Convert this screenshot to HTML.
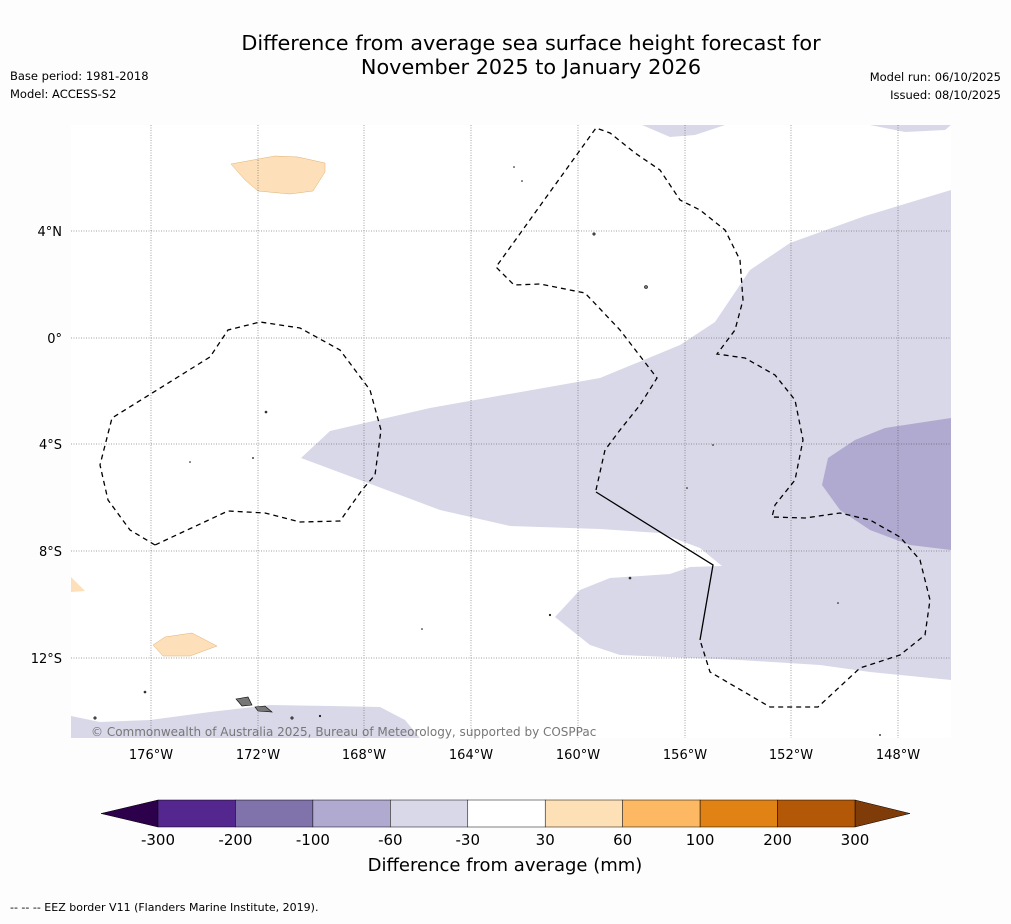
<!DOCTYPE html>
<html><head><meta charset="utf-8"><style>
body{margin:0;background:#fdfdfd;}
svg text{font-family:"DejaVu Sans","Liberation Sans",sans-serif;}
</style></head><body>
<svg id="chart" width="1011" height="919" viewBox="0 0 1011 919" xmlns="http://www.w3.org/2000/svg">
<rect width="1011" height="919" fill="#fdfdfd"/>
<text x="531" y="50" font-size="20.8" text-anchor="middle">Difference from average sea surface height forecast for</text>
<text x="531" y="74" font-size="20.8" text-anchor="middle">November 2025 to January 2026</text>
<text x="10" y="80" font-size="11.5">Base period: 1981-2018</text>
<text x="10" y="98" font-size="11.5">Model: ACCESS-S2</text>
<text x="1001" y="81" font-size="11.5" text-anchor="end">Model run: 06/10/2025</text>
<text x="1001" y="99" font-size="11.5" text-anchor="end">Issued: 08/10/2025</text>

<g>
<rect x="71" y="125" width="880" height="613" fill="#fff"/>
<path fill="#d8d8e9" d="M301,458 L330,431 L430,408 L600,378 L680,345 L715,322 L750,270 L790,243 L865,216 L951,190 L951,680 L870,672 L820,665 L740,660 L620,655 L590,645 L555,617 L580,590 L610,578 L670,574 L690,567 L722,566 L700,548 L660,533 L600,529 L510,526 L440,510 L360,480 Z"/>
<path fill="#b0a9d0" d="M822,485 L828,458 L855,440 L885,428 L951,418 L951,550 L910,545 L870,530 L840,510 Z"/>
<path fill="#d8d8e9" d="M642,125 L725,125 L695,135 L670,137 Z"/>
<path fill="#d8d8e9" d="M870,125 L951,125 L945,130 L905,132 Z"/>
<path fill="#d8d8e9" d="M71,716 L100,722 L150,720 L210,712 L270,705 L330,706 L380,707 L405,720 L420,738 L71,738 Z"/>
<path fill="#fde0b9" stroke="#e0b070" stroke-width="0.5" d="M231,164 L275,156 L298,157 L325,163 L325,172 L313,191 L290,194 L258,191 L245,180 Z"/>
<path fill="#fde0b9" stroke="#e0b070" stroke-width="0.5" d="M153,645 L165,637 L192,633 L217,646 L190,656 L163,656 Z"/>
<path fill="#fde0b9" d="M71,577 L85,591 L71,592 Z"/>
<g stroke="#444" stroke-width="0.5" stroke-dasharray="1,1.5">
<line x1="151" y1="125" x2="151" y2="738"/><line x1="258" y1="125" x2="258" y2="738"/><line x1="364" y1="125" x2="364" y2="738"/><line x1="471" y1="125" x2="471" y2="738"/><line x1="578" y1="125" x2="578" y2="738"/><line x1="685" y1="125" x2="685" y2="738"/><line x1="791" y1="125" x2="791" y2="738"/><line x1="898" y1="125" x2="898" y2="738"/>
<line x1="71" y1="231" x2="951" y2="231"/><line x1="71" y1="338" x2="951" y2="338"/><line x1="71" y1="444" x2="951" y2="444"/><line x1="71" y1="551" x2="951" y2="551"/><line x1="71" y1="658" x2="951" y2="658"/>
</g>
<g fill="none" stroke="#000" stroke-width="1.3" stroke-dasharray="5,4">
<path d="M155,545 L130,530 L108,500 L100,465 L112,418 L210,357 L228,330 L260,322 L300,328 L340,350 L370,390 L381,430 L375,475 L362,490 L340,521 L300,522 L265,513 L228,511 Z"/>
<path d="M596,490 L605,450 L620,430 L640,405 L657,378 L620,330 L585,293 L540,284 L514,285 L496,267 L596,128 L610,133 L635,153 L660,170 L680,200 L700,210 L725,230 L740,260 L743,300 L735,330 L717,354 L745,358 L775,375 L795,400 L803,440 L795,480 L775,505 L772,517 L805,518 L840,513 L870,520 L900,537 L920,560 L930,600 L925,635 L900,655 L860,668 L818,707 L770,707 L710,672 L700,640"/>
</g>
<path d="M596,492 L713,565 L700,640" fill="none" stroke="#000" stroke-width="1.3"/>
<g fill="#777" stroke="#000" stroke-width="0.6">
<path d="M236,699 L248,697 L252,705 L242,706 Z"/><path d="M255,707 L265,706 L272,712 L258,711 Z"/>
<circle cx="594" cy="234" r="1.2"/><circle cx="646" cy="287" r="1.5"/><circle cx="266" cy="412" r="1"/><circle cx="145" cy="692" r="1"/><circle cx="292" cy="718" r="1.2"/><circle cx="95" cy="718" r="1.2"/><circle cx="630" cy="578" r="1"/><circle cx="550" cy="615" r="0.8"/><circle cx="514" cy="167" r="0.5"/><circle cx="522" cy="181" r="0.5"/><circle cx="190" cy="462" r="0.5"/><circle cx="253" cy="458" r="0.6"/><circle cx="713" cy="445" r="0.5"/><circle cx="687" cy="488" r="0.5"/><circle cx="422" cy="629" r="0.5"/><circle cx="838" cy="603" r="0.5"/><circle cx="880" cy="735" r="0.6"/><circle cx="320" cy="716" r="0.8"/>
</g>
<text x="91" y="736" font-size="12" fill="#777">© Commonwealth of Australia 2025, Bureau of Meteorology, supported by COSPPac</text>
</g>
<g font-size="13">
<text x="62" y="236" text-anchor="end">4°N</text>
<text x="62" y="343" text-anchor="end">0°</text>
<text x="62" y="449" text-anchor="end">4°S</text>
<text x="62" y="556" text-anchor="end">8°S</text>
<text x="62" y="663" text-anchor="end">12°S</text>
<text x="151" y="759" text-anchor="middle">176°W</text>
<text x="258" y="759" text-anchor="middle">172°W</text>
<text x="364" y="759" text-anchor="middle">168°W</text>
<text x="471" y="759" text-anchor="middle">164°W</text>
<text x="578" y="759" text-anchor="middle">160°W</text>
<text x="685" y="759" text-anchor="middle">156°W</text>
<text x="791" y="759" text-anchor="middle">152°W</text>
<text x="898" y="759" text-anchor="middle">148°W</text>
</g>
<g id="colorbar"></g>
<text x="505" y="871" font-size="18" text-anchor="middle">Difference from average (mm)</text>
<text x="10" y="911" font-size="11">--  --  -- EEZ border V11 (Flanders Marine Institute, 2019).</text>
</svg>
<script>
const binEdges=[-300,-200,-100,-60,-30,30,60,100,200,300];
const binColors=["#54278f","#8073ac","#b0a9d0","#d8d8e9","#ffffff","#fee0b6","#fdb863","#e08214","#b35806"];
const tickLabels=["-300","-200","-100","-60","-30","30","60","100","200","300"];
const NS="http://www.w3.org/2000/svg";
const g=document.getElementById('colorbar');
const x0=158,x1=855,y0=800,h=27;
const step=(x1-x0)/(binEdges.length-1);
function bx(i){return x0+i*step;}
function mk(t,a){const e=document.createElementNS(NS,t);for(const k in a)e.setAttribute(k,a[k]);g.appendChild(e);return e;}
const lt=mk('polygon',{points:`${x0},${y0} ${x0},${y0+h} 101,${y0+h/2}`,fill:'#2d004b',stroke:'#000','stroke-width':0.5});


const rt=mk('polygon',{points:`${x1},${y0} ${x1},${y0+h} 910,${y0+h/2}`,fill:'#7f3b08',stroke:'#000','stroke-width':0.5});


binColors.forEach((c,i)=>{
 const r=mk('rect',{x:bx(i),y:y0,width:step,height:h,fill:c,stroke:'#000','stroke-width':0.5});
 
 
});
tickLabels.forEach((t,i)=>{
 const e=mk('text',{x:bx(i),y:845,'font-size':15,'text-anchor':'middle'});
 e.textContent=t;
 
 
});
</script>
</body></html>
